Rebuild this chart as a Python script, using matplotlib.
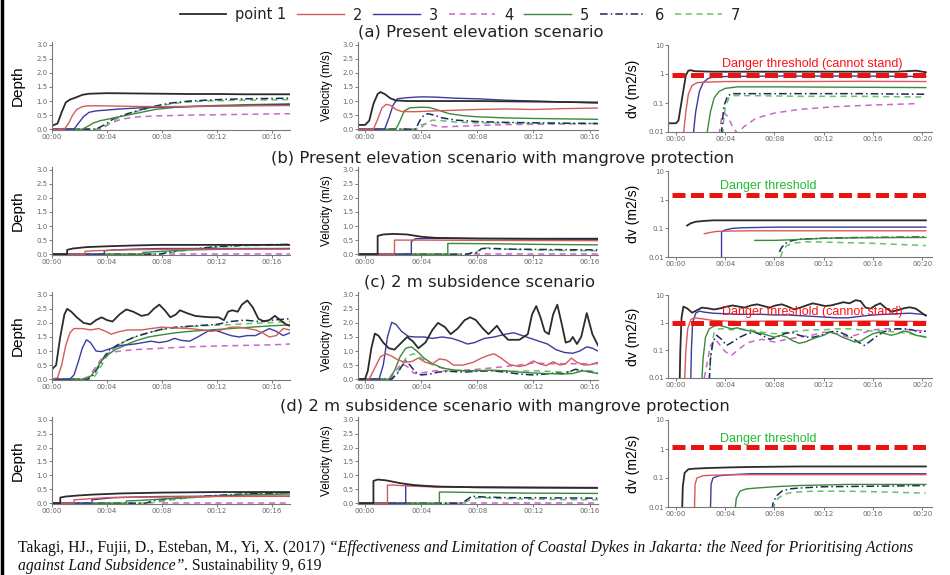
import matplotlib
matplotlib.use("Agg")
import matplotlib.pyplot as plt
from matplotlib.lines import Line2D

W, H = 950, 575

# ---------------- data: time in minutes, one dict per panel ----------------
# each entry: point -> (times, values)
DEPTH_A = {
    1: ([0, 0.4, 0.7, 1.0, 1.3, 1.7, 2.2, 2.7, 4, 6, 8, 10, 12, 14, 17.3],
        [0.12, 0.2, 0.6, 0.95, 1.05, 1.12, 1.22, 1.26, 1.28, 1.27, 1.26, 1.25, 1.25, 1.24, 1.24]),
    2: ([0, 0.9, 1.2, 1.5, 1.8, 2.2, 2.6, 3.5, 6, 8, 12, 17.3],
        [0, 0, 0.2, 0.5, 0.7, 0.8, 0.83, 0.83, 0.81, 0.8, 0.82, 0.84]),
    3: ([0, 1.6, 1.9, 2.3, 2.7, 3.2, 4, 5, 6.5, 8, 12, 17.3],
        [0, 0, 0.2, 0.45, 0.6, 0.65, 0.68, 0.72, 0.76, 0.78, 0.82, 0.88]),
    4: ([0, 3.6, 4.2, 5, 6, 7.5, 10, 13, 17.3],
        [0, 0, 0.2, 0.35, 0.43, 0.47, 0.5, 0.52, 0.55]),
    5: ([0, 2.2, 2.6, 3.0, 3.5, 4.5, 5.5, 6.5, 7.5, 9, 11, 14, 17.3],
        [0, 0, 0.1, 0.22, 0.3, 0.4, 0.5, 0.6, 0.7, 0.78, 0.83, 0.87, 0.9]),
    6: ([0, 3.2, 3.8, 4.5, 5.5, 6.5, 7.5, 8.5, 10, 12, 14, 17.3],
        [0, 0, 0.15, 0.38, 0.55, 0.7, 0.82, 0.92, 1.0, 1.05, 1.08, 1.1]),
    7: ([0, 3.4, 4.0, 4.8, 5.8, 7, 8, 9.5, 11, 14, 17.3],
        [0, 0, 0.15, 0.4, 0.58, 0.74, 0.85, 0.95, 1.0, 1.03, 1.05]),
}
VEL_A = {
    1: ([-0.5, 0, 0.3, 0.6, 0.9, 1.1, 1.4, 1.8, 2.2, 3, 5, 8, 12, 16.6],
        [0.15, 0.15, 0.3, 0.9, 1.25, 1.32, 1.25, 1.1, 1.02, 1.0, 1.0, 1.0, 0.98, 0.95]),
    2: ([-0.5, 0.6, 0.9, 1.2, 1.5, 1.8, 2.2, 2.6, 3.5, 5, 8, 10, 12, 14, 16.6],
        [0, 0, 0.35, 0.75, 0.88, 0.85, 0.7, 0.63, 0.62, 0.65, 0.7, 0.72, 0.7, 0.73, 0.75]),
    3: ([-0.5, 1.4, 1.7, 2.0, 2.3, 3, 4, 5, 6.5, 8, 10, 12, 14, 16.6],
        [0, 0, 0.4, 0.85, 1.08, 1.12, 1.15, 1.14, 1.1, 1.08, 1.03, 1.0, 0.97, 0.93]),
    4: ([-0.5, 3.6, 4.0, 4.4, 5.0, 5.6, 6.5, 8, 10, 13, 16.6],
        [0, 0, 0.15, 0.2, 0.12, 0.08, 0.1, 0.13, 0.16, 0.18, 0.2]),
    5: ([-0.5, 2.2, 2.5, 2.8, 3.2, 4, 4.6, 5.2, 6, 7, 8, 10, 12, 16.6],
        [0, 0, 0.3, 0.65, 0.76, 0.78, 0.77, 0.68, 0.55, 0.48, 0.44, 0.4, 0.38, 0.35]),
    6: ([-0.5, 3.6, 3.9, 4.2, 4.5, 4.9, 5.5, 6.5, 8, 10, 13, 16.6],
        [0, 0, 0.3, 0.5, 0.55, 0.5, 0.4, 0.32, 0.27, 0.24, 0.22, 0.2]),
    7: ([-0.5, 3.9, 4.3, 4.8, 5.5, 6.5, 8, 10, 13, 16.6],
        [0, 0, 0.2, 0.32, 0.3, 0.25, 0.22, 0.22, 0.2, 0.2]),
}
DV_A = {
    1: ([-0.65, 0, 0.2, 0.5, 0.8, 1.0, 1.2, 1.5, 3, 6, 10, 15, 18, 19.5, 20.3],
        [0.02, 0.02, 0.025, 0.15, 0.9, 1.3, 1.35, 1.25, 1.2, 1.2, 1.2, 1.2, 1.2, 1.3, 1.15]),
    2: ([0.6, 0.8, 1.0, 1.3, 1.7, 2.2, 4, 10, 15, 20.3],
        [0.008, 0.05, 0.2, 0.4, 0.5, 0.52, 0.55, 0.55, 0.56, 0.55]),
    3: ([1.4, 1.6, 1.9, 2.2, 2.6, 3.0, 4, 8, 15, 20.3],
        [0.008, 0.05, 0.25, 0.5, 0.7, 0.78, 0.82, 0.85, 0.85, 0.82]),
    4: ([3.5, 3.7, 3.9, 4.2, 4.6, 5.0, 5.5, 6.5, 8, 10, 13, 16, 19.5],
        [0.008, 0.03, 0.045, 0.035, 0.015, 0.009, 0.015, 0.03, 0.045, 0.06, 0.075, 0.085, 0.095]),
    5: ([2.5, 2.8, 3.1, 3.5, 4.0, 5, 8, 14, 20.3],
        [0.008, 0.05, 0.15, 0.25, 0.32, 0.36, 0.36, 0.35, 0.34]),
    6: ([3.7, 3.75, 3.9, 4.2, 4.6, 6, 10, 15, 20.3],
        [0.008, 0.02, 0.08, 0.18, 0.21, 0.21, 0.21, 0.21, 0.2]),
    7: ([3.8, 3.85, 4.0, 4.3, 4.7, 6, 10, 15, 20.3],
        [0.008, 0.02, 0.07, 0.15, 0.18, 0.18, 0.17, 0.17, 0.16]),
}

DEPTH_B = {
    1: ([0, 1.1, 1.1, 1.5, 2.5, 4, 6, 8, 12, 17.3],
        [0, 0, 0.15, 0.2, 0.25, 0.28, 0.31, 0.33, 0.33, 0.33]),
    2: ([0, 2.4, 2.4, 3, 5, 8, 12, 17.3], [0, 0, 0.1, 0.12, 0.15, 0.17, 0.18, 0.18]),
    3: ([0, 3.8, 3.8, 4.5, 6, 8, 12, 17.3], [0, 0, 0.12, 0.15, 0.18, 0.2, 0.2, 0.2]),
    4: ([8.5, 17.3], [0.0, 0.0]),
    5: ([0, 6.6, 6.6, 8, 10, 13, 17.3], [0, 0, 0.06, 0.1, 0.15, 0.18, 0.2]),
    6: ([0, 7.8, 8.3, 9, 10.5, 12, 14, 17.3], [0, 0, 0.05, 0.12, 0.2, 0.27, 0.32, 0.35]),
    7: ([0, 8.0, 8.5, 9.2, 10.5, 12, 14, 17.3], [0, 0, 0.04, 0.1, 0.18, 0.25, 0.3, 0.33]),
}
VEL_B = {
    1: ([-0.5, 0.9, 0.9, 1.3, 2, 3, 4, 5, 8, 12, 16.6],
        [0, 0, 0.65, 0.7, 0.72, 0.7, 0.62, 0.58, 0.56, 0.55, 0.55]),
    2: ([-0.5, 2.1, 2.1, 2.6, 4, 8, 16.6], [0, 0, 0.5, 0.5, 0.5, 0.49, 0.48]),
    3: ([-0.5, 3.3, 3.3, 3.6, 4.5, 8, 16.6], [0, 0, 0.45, 0.55, 0.56, 0.55, 0.53]),
    4: ([7.8, 16.6], [0.0, 0.0]),
    5: ([-0.5, 5.9, 5.9, 6.5, 9, 12, 16.6], [0, 0, 0.38, 0.38, 0.37, 0.35, 0.33]),
    6: ([-0.5, 7.3, 7.6, 8.0, 8.3, 9, 10, 12, 14, 16.6],
        [0, 0, 0.05, 0.05, 0.2, 0.2, 0.18, 0.17, 0.16, 0.15]),
    7: ([-0.5, 7.8, 8.3, 9, 10, 12, 14, 16.6], [0, 0, 0.22, 0.22, 0.18, 0.15, 0.13, 0.12]),
}
DV_B = {
    1: ([0.9, 1.2, 1.6, 2.2, 3, 5, 10, 15, 20.3],
        [0.125, 0.15, 0.17, 0.18, 0.19, 0.19, 0.19, 0.19, 0.19]),
    2: ([2.3, 2.8, 3.3, 4, 6, 10, 15, 20.3],
        [0.065, 0.072, 0.078, 0.08, 0.082, 0.082, 0.082, 0.082]),
    3: ([3.7, 3.7, 4.0, 4.6, 5.5, 8, 12, 20.3],
        [0.008, 0.075, 0.088, 0.1, 0.105, 0.11, 0.11, 0.11]),
    5: ([6.4, 8, 9.5, 12, 15, 20.3], [0.038, 0.038, 0.04, 0.045, 0.047, 0.048]),
    6: ([8.4, 8.6, 8.9, 9.3, 10, 12, 15, 20.3],
        [0.015, 0.022, 0.03, 0.036, 0.042, 0.045, 0.048, 0.05]),
    7: ([8.5, 8.7, 9.0, 9.5, 10.5, 12, 16, 20.3],
        [0.01, 0.018, 0.025, 0.03, 0.034, 0.033, 0.03, 0.025]),
}

DEPTH_C = {
    1: ([0, 0.3, 0.6, 0.9, 1.1, 1.4, 1.8, 2.3, 2.8, 3.2, 3.6, 4.0, 4.4, 4.9, 5.4, 5.9, 6.5,
         7.0, 7.4, 7.8, 8.2, 8.6, 9.0, 9.3, 9.8, 10.4, 11, 11.6, 12.1, 12.5, 12.8, 13.1,
         13.5, 13.8, 14.2, 14.6, 15, 15.4, 15.8, 16.2, 16.6, 17.0, 17.3],
        [0.35, 0.5, 1.5, 2.3, 2.5, 2.4, 2.2, 2.0, 1.95, 2.1, 2.2, 2.1, 2.05, 2.3, 2.48, 2.4,
         2.25, 2.3, 2.5, 2.65, 2.45, 2.2, 2.3, 2.45, 2.35, 2.25, 2.22, 2.2, 2.2, 2.1, 2.4,
         2.45, 2.4, 2.65, 2.8, 2.55, 2.15, 2.05, 2.1, 2.25, 2.1, 1.95, 1.9]),
    2: ([0, 0.4, 0.7, 1.0, 1.3, 1.6, 2.2, 2.8, 3.4, 3.9, 4.3, 4.8, 5.5, 6.5, 7.2, 8, 9, 10,
         11, 11.6, 12.3, 13, 13.6, 14.2, 14.8, 15.3, 15.8, 16.3, 16.8, 17.3],
        [0, 0.05, 0.5, 1.2, 1.65, 1.8, 1.8, 1.75, 1.8, 1.7, 1.6, 1.68, 1.75, 1.75, 1.8,
         1.85, 1.82, 1.8, 1.75, 1.7, 1.75, 1.85, 1.85, 1.8, 1.75, 1.65, 1.5, 1.55, 1.8, 1.75]),
    3: ([0, 1.3, 1.6, 1.9, 2.2, 2.5, 2.8, 3.2, 3.6, 4.2, 5, 6, 6.6, 7.2, 7.8, 8.4, 8.9, 9.4,
         10, 10.6, 11.3, 11.8, 12.4, 13, 13.6, 14.2, 14.8, 15.4, 15.8, 16.3, 16.8, 17.3],
        [0, 0, 0.15, 0.6, 1.1, 1.4, 1.3, 1.0, 0.98, 1.08, 1.2, 1.25, 1.3, 1.35, 1.3, 1.35,
         1.45, 1.38, 1.35, 1.5, 1.7, 1.75, 1.65, 1.55, 1.5, 1.55, 1.55, 1.7, 1.8, 1.7, 1.55, 1.65]),
    4: ([0, 2.2, 2.7, 3.2, 3.7, 4.2, 5, 6, 8, 10, 12, 14, 16, 17.3],
        [0, 0, 0.1, 0.45, 0.8, 0.95, 1.0, 1.05, 1.1, 1.15, 1.18, 1.2, 1.22, 1.25]),
    5: ([0, 2.4, 2.8, 3.2, 3.6, 4.0, 4.6, 5.3, 6, 7, 8, 9, 10, 11.5, 13, 14.5, 16, 17.3],
        [0, 0, 0.1, 0.35, 0.65, 0.85, 1.05, 1.2, 1.35, 1.5, 1.58, 1.65, 1.7, 1.75, 1.8,
         1.85, 1.9, 1.93]),
    6: ([0, 2.6, 3.0, 3.4, 3.8, 4.2, 4.7, 5.3, 6, 7, 8, 9, 10.5, 12, 13, 14, 15, 16, 17.3],
        [0, 0, 0.15, 0.45, 0.8, 1.05, 1.2, 1.35, 1.5, 1.65, 1.78, 1.85, 1.9, 1.95, 2.05,
         2.1, 2.05, 2.1, 2.15]),
    7: ([0, 2.7, 3.1, 3.5, 3.9, 4.3, 4.8, 5.5, 6.3, 7.2, 8.2, 9.5, 11, 12.5, 14, 15.5, 17.3],
        [0, 0, 0.1, 0.4, 0.75, 1.0, 1.2, 1.4, 1.55, 1.68, 1.78, 1.85, 1.9, 1.93, 1.97, 2.0, 2.05]),
}
VEL_C = {
    1: ([-0.5, 0, 0.2, 0.45, 0.7, 0.95, 1.3, 1.7, 2.1, 2.5, 3.0, 3.4, 3.8, 4.3, 4.8, 5.2,
         5.7, 6.1, 6.6, 7.1, 7.5, 7.9, 8.4, 8.8, 9.1, 9.4, 9.8, 10.2, 11, 11.6, 11.9, 12.2,
         12.5, 12.8, 13.1, 13.4, 13.7, 14.0, 14.3, 14.6, 14.8, 15.1, 15.4, 15.8, 16.2, 16.6],
        [0, 0, 0.3, 1.1, 1.62, 1.55, 1.3, 1.1, 1.05, 1.25, 1.5, 1.35, 1.1, 1.3, 1.75, 2.0,
         1.85, 1.6, 1.8, 2.1, 2.2, 2.1, 1.8, 1.6, 1.75, 1.9, 1.6, 1.4, 1.4, 1.6, 2.3, 2.6,
         2.2, 1.7, 1.6, 2.3, 2.65, 2.0, 1.3, 1.35, 1.5, 1.25, 1.5, 2.35, 1.6, 1.2]),
    2: ([-0.5, 0.3, 0.7, 1.1, 1.5, 1.9, 2.3, 2.8, 3.3, 3.8, 4.3, 4.8, 5.3, 5.8, 6.3, 7, 7.7,
         8.3, 8.8, 9.2, 9.7, 10.3, 11, 11.5, 12, 12.4, 12.9, 13.4, 13.9, 14.3, 14.7, 15.1,
         15.6, 16.1, 16.6],
        [0, 0, 0.4, 0.8, 0.9, 0.82, 0.7, 0.6, 0.62, 0.75, 0.6, 0.55, 0.72, 0.68, 0.5, 0.5,
         0.6, 0.75, 0.85, 0.9, 0.75, 0.52, 0.45, 0.5, 0.65, 0.55, 0.48, 0.62, 0.5, 0.55,
         0.75, 0.6, 0.5, 0.52, 0.6]),
    3: ([-0.5, 1.0, 1.3, 1.6, 1.9, 2.2, 2.6, 3.1, 3.6, 4.2, 4.8, 5.5, 6.2, 6.8, 7.3, 7.8,
         8.5, 9.2, 10, 10.6, 11.2, 11.8, 12.4, 13, 13.6, 14.2, 14.8, 15.3, 15.8, 16.2, 16.6],
        [0, 0, 0.5, 1.5, 2.02, 1.95, 1.7, 1.52, 1.5, 1.5, 1.45, 1.5, 1.45, 1.35, 1.25, 1.3,
         1.45, 1.5, 1.6, 1.65, 1.55, 1.45, 1.35, 1.25, 1.05, 0.95, 0.92, 1.0, 1.15, 1.1, 1.0]),
    4: ([-0.5, 1.8, 2.2, 2.6, 3.0, 3.5, 4.0, 5, 6, 7, 8, 9, 10, 11, 12, 13, 14, 15, 16, 16.6],
        [0, 0, 0.3, 0.55, 0.45, 0.2, 0.22, 0.3, 0.3, 0.32, 0.35, 0.4, 0.45, 0.5, 0.58,
         0.55, 0.55, 0.55, 0.55, 0.55]),
    5: ([-0.5, 1.7, 2.1, 2.5, 2.9, 3.3, 3.7, 4.2, 4.8, 5.5, 6.3, 7, 8, 9, 10, 11, 12, 13,
         14, 14.8, 15.5, 16.1, 16.6],
        [0, 0, 0.3, 0.8, 1.1, 1.15, 1.0, 0.75, 0.55, 0.4, 0.32, 0.3, 0.3, 0.32, 0.3, 0.25,
         0.22, 0.2, 0.18, 0.2, 0.3, 0.25, 0.2]),
    6: ([-0.5, 1.9, 2.3, 2.6, 2.9, 3.2, 3.6, 4.0, 4.6, 5.2, 6, 7, 8, 9, 10, 11, 12, 12.8,
         13.5, 14.2, 15, 15.6, 16.1, 16.6],
        [0, 0, 0.2, 0.45, 0.65, 0.5, 0.25, 0.15, 0.18, 0.25, 0.28, 0.25, 0.28, 0.3, 0.25,
         0.18, 0.15, 0.18, 0.22, 0.2, 0.35, 0.3, 0.25, 0.2]),
    7: ([-0.5, 1.9, 2.3, 2.7, 3.1, 3.5, 4.0, 4.6, 5.3, 6, 7, 8, 9, 10, 11, 12, 13, 14, 15,
         16, 16.6],
        [0, 0, 0.2, 0.6, 0.85, 0.9, 0.75, 0.55, 0.42, 0.35, 0.3, 0.3, 0.3, 0.28, 0.28, 0.3,
         0.28, 0.25, 0.28, 0.3, 0.25]),
}
DV_C = {
    1: ([0.3, 0.35, 0.45, 0.6, 0.9, 1.3, 1.7, 2.1, 2.6, 3.1, 3.6, 4.1, 4.6, 5.1, 5.6, 6.1,
         6.6, 7.1, 7.6, 8.1, 8.6, 9.1, 9.6, 10.1, 10.6, 11.1, 11.6, 12.1, 12.6, 13.1, 13.6,
         14.1, 14.6, 15, 15.4, 15.8, 16.2, 16.6, 17, 17.5, 18, 18.5, 19, 19.5, 20, 20.3],
        [0.008, 0.1, 1.5, 3.8, 3.3, 2.3, 2.8, 3.5, 3.3, 3.0, 3.3, 3.8, 4.2, 3.8, 3.5, 4.2,
         4.6, 4.0, 3.5, 4.2, 4.6, 3.8, 3.0, 3.5, 4.2, 5.0, 4.5, 4.0, 4.2, 4.8, 5.5, 5.0,
         6.5, 6.0, 3.5, 3.2, 4.2, 5.0, 3.5, 2.5, 2.8, 3.3, 3.6, 3.2, 2.2, 1.8]),
    2: ([0.7, 0.8, 0.95, 1.2, 1.5, 2.0, 3, 5, 8, 12, 16, 20.3],
        [0.008, 0.1, 0.6, 1.3, 1.5, 1.4, 1.2, 1.1, 1.15, 1.1, 1.15, 1.1]),
    3: ([1.2, 1.25, 1.35, 1.6, 1.9, 2.3, 3, 4, 5, 6, 7, 8, 9, 10, 11, 12, 13, 14, 15, 16,
         17, 18, 19, 20, 20.3],
        [0.008, 0.1, 1.0, 2.2, 2.6, 2.4, 2.2, 2.1, 2.0, 2.0, 2.0, 1.9, 1.9, 1.8, 1.7, 1.6,
         1.5, 1.5, 1.7, 1.9, 2.0, 2.1, 2.2, 2.0, 1.9]),
    4: ([2.3, 2.5, 2.8, 3.2, 3.6, 4.0, 4.5, 5, 5.5, 6, 7, 8, 9, 10, 11, 12, 13, 14, 15, 16,
         17, 18, 19, 20.3],
        [0.01, 0.03, 0.15, 0.25, 0.15, 0.09, 0.065, 0.1, 0.15, 0.2, 0.25, 0.2, 0.25, 0.3,
         0.35, 0.45, 0.4, 0.3, 0.4, 0.55, 0.6, 0.6, 0.55, 0.5]),
    5: ([2.1, 2.2, 2.4, 2.7, 3.1, 3.5, 4, 4.5, 5, 5.5, 6, 7, 8, 8.5, 9, 9.5, 10, 10.5, 11,
         11.5, 12, 12.5, 13, 13.5, 14, 14.5, 15, 15.5, 16, 16.5, 17, 17.5, 18, 18.5, 19,
         19.5, 20.3],
        [0.008, 0.05, 0.3, 0.6, 0.75, 0.8, 0.7, 0.6, 0.65, 0.55, 0.5, 0.4, 0.3, 0.35, 0.3,
         0.22, 0.18, 0.2, 0.25, 0.3, 0.35, 0.45, 0.4, 0.3, 0.25, 0.2, 0.22, 0.3, 0.4, 0.45,
         0.4, 0.35, 0.4, 0.5, 0.45, 0.35, 0.3]),
    6: ([2.7, 2.8, 3.0, 3.3, 3.7, 4.1, 4.6, 5.2, 5.8, 6.4, 7, 7.6, 8.2, 8.8, 9.4, 10, 10.6,
         11.2, 11.8, 12.4, 13, 13.6, 14.2, 14.8, 15.3, 15.7, 16.2, 16.8, 17.4, 18, 18.6,
         19.2, 19.8, 20.3],
        [0.008, 0.05, 0.2, 0.35, 0.25, 0.15, 0.2, 0.3, 0.4, 0.45, 0.35, 0.25, 0.3, 0.4,
         0.45, 0.35, 0.3, 0.3, 0.35, 0.45, 0.5, 0.4, 0.3, 0.2, 0.15, 0.2, 0.3, 0.45, 0.55,
         0.6, 0.6, 0.55, 0.45, 0.5]),
    7: ([2.7, 2.85, 3.1, 3.5, 4, 4.5, 5, 6, 7, 8, 9, 10, 11, 12, 13, 14, 15, 16, 17, 18,
         19, 20.3],
        [0.008, 0.1, 0.45, 0.6, 0.6, 0.55, 0.6, 0.55, 0.45, 0.4, 0.45, 0.5, 0.55, 0.55,
         0.6, 0.6, 0.55, 0.5, 0.5, 0.45, 0.4, 0.3]),
}

DEPTH_D = {
    1: ([0, 0.6, 0.6, 1.0, 2, 3, 5, 8, 12, 17.3],
        [0, 0, 0.2, 0.24, 0.28, 0.31, 0.35, 0.38, 0.4, 0.4]),
    2: ([0, 1.6, 1.6, 2.5, 4, 6, 8, 12, 17.3], [0, 0, 0.12, 0.15, 0.2, 0.21, 0.22, 0.24, 0.25]),
    3: ([0, 2.9, 2.9, 3.5, 4.5, 6, 8, 12, 17.3], [0, 0, 0.12, 0.15, 0.2, 0.22, 0.24, 0.25, 0.25]),
    4: ([8.0, 17.3], [0.0, 0.0]),
    5: ([0, 5.4, 5.4, 6.5, 8, 10, 12, 14, 17.3], [0, 0, 0.08, 0.1, 0.15, 0.2, 0.25, 0.3, 0.33]),
    6: ([0, 6.8, 7.5, 8.5, 10, 12, 14, 17.3], [0, 0, 0.1, 0.15, 0.22, 0.28, 0.33, 0.38]),
    7: ([0, 7.0, 7.8, 8.8, 10, 12, 14, 17.3], [0, 0, 0.05, 0.12, 0.2, 0.27, 0.33, 0.37]),
}
VEL_D = {
    1: ([-0.5, 0.6, 0.6, 0.9, 1.5, 2.5, 3.5, 5, 8, 12, 16.6],
        [0, 0, 0.8, 0.85, 0.82, 0.72, 0.65, 0.6, 0.57, 0.56, 0.55]),
    2: ([-0.5, 1.6, 1.6, 2, 3, 5, 10, 16.6], [0, 0, 0.65, 0.65, 0.62, 0.58, 0.56, 0.55]),
    3: ([-0.5, 2.9, 2.9, 3.3, 4, 6, 10, 16.6], [0, 0, 0.65, 0.65, 0.62, 0.58, 0.57, 0.56]),
    4: ([6.0, 16.6], [0.02, 0.02]),
    5: ([-0.5, 5.3, 5.3, 6, 8, 12, 16.6], [0, 0, 0.4, 0.4, 0.38, 0.36, 0.35]),
    6: ([-0.5, 6.8, 7.2, 7.6, 8.5, 10, 13, 16.6], [0, 0, 0.1, 0.25, 0.22, 0.2, 0.19, 0.18]),
    7: ([-0.5, 7.0, 7.5, 8, 9, 11, 14, 16.6], [0, 0, 0.12, 0.2, 0.18, 0.15, 0.13, 0.12]),
}
DV_D = {
    1: ([0.5, 0.55, 0.7, 1.0, 1.5, 2.5, 4, 6, 10, 15, 20.3],
        [0.008, 0.05, 0.15, 0.2, 0.21, 0.22, 0.23, 0.24, 0.25, 0.25, 0.25]),
    2: ([1.5, 1.55, 1.7, 2.2, 3, 5, 10, 20.3], [0.008, 0.06, 0.1, 0.12, 0.125, 0.13, 0.13, 0.13]),
    3: ([2.8, 2.85, 3.0, 3.5, 4.5, 6, 10, 20.3], [0.008, 0.06, 0.1, 0.12, 0.13, 0.14, 0.14, 0.14]),
    5: ([4.8, 4.9, 5.2, 5.7, 6.5, 8, 10, 14, 20.3],
        [0.008, 0.02, 0.035, 0.042, 0.045, 0.05, 0.055, 0.06, 0.06]),
    6: ([7.8, 7.9, 8.2, 8.6, 9.2, 10, 12, 16, 20.3],
        [0.008, 0.015, 0.025, 0.035, 0.042, 0.045, 0.05, 0.052, 0.055]),
    7: ([7.9, 8.0, 8.3, 8.8, 9.5, 11, 14, 17, 20.3],
        [0.008, 0.012, 0.02, 0.028, 0.032, 0.035, 0.035, 0.033, 0.03]),
}

TITLES = [
    "(a) Present elevation scenario",
    "(b) Present elevation scenario with mangrove protection",
    "(c) 2 m subsidence scenario",
    "(d) 2 m subsidence scenario with mangrove protection",
]
THRESHOLDS = [0.9, 1.5, 1.0, 1.15]
THRESHOLD_TEXT = ["Danger threshold (cannot stand)", "Danger threshold",
                  "Danger threshold (cannot stand)", "Danger threshold"]
LEGEND_LABELS = ["point 1", "2", "3", "4", "5", "6", "7"]

STYLE = {
    1: dict(color="#2b2b2b", lw=1.3, ls="-"),
    2: dict(color="#d65a5a", lw=1.0, ls="-"),
    3: dict(color="#3b3b9e", lw=1.0, ls="-"),
    4: dict(color="#cc66cc", lw=1.1, ls=(0, (4, 3))),
    5: dict(color="#3a8a3a", lw=1.0, ls="-"),
    6: dict(color="#1c2a5a", lw=1.1, ls=(0, (5, 2, 1, 2))),
    7: dict(color="#66c266", lw=1.1, ls=(0, (4, 3))),
}
ORDER = [4, 7, 6, 5, 3, 2, 1]

# pixel geometry of the grid
LIN_ROWS = [(42, 130), (167, 255), (292, 380), (417, 504)]
LOG_ROWS = [(45, 132), (171, 257), (295, 378), (420, 507)]
TITLE_Y = [32, 158, 282, 406]
TITLE_X = [481, 503, 480, 505]
COLS = [(52, 290), (358, 598), (668, 932)]


def box(x0, y0, x1, y1):
    return [x0 / W, 1 - y1 / H, (x1 - x0) / W, (y1 - y0) / H]


def style_axis(ax):
    for s in ("top", "right"):
        ax.spines[s].set_visible(False)
    for s in ("left", "bottom"):
        ax.spines[s].set_color("#777777")
        ax.spines[s].set_linewidth(0.8)
    ax.tick_params(labelsize=5, colors="#666666", length=2, width=0.6, pad=1)
    ax.minorticks_off()


def time_axis(ax, ticks):
    ax.set_xticks(ticks)
    ax.set_xticklabels([f"00:{t:02d}" for t in ticks])


def draw(ax, series):
    for p in ORDER:
        if p in series:
            t, v = series[p]
            ax.plot(t, v, **STYLE[p])


fig = plt.figure(figsize=(W / 100, H / 100), dpi=100)

panels = [(DEPTH_A, VEL_A, DV_A), (DEPTH_B, VEL_B, DV_B),
          (DEPTH_C, VEL_C, DV_C), (DEPTH_D, VEL_D, DV_D)]

for r, (dep, vel, dv) in enumerate(panels):
    y0, y1 = LIN_ROWS[r]
    ly0, ly1 = LOG_ROWS[r]

    ax = fig.add_axes(box(COLS[0][0], y0, COLS[0][1], y1))
    draw(ax, dep)
    ax.set_xlim(0, 17.3)
    ax.set_ylim(-0.03, 3.1)
    ax.set_yticks([0, 0.5, 1.0, 1.5, 2.0, 2.5, 3.0])
    ax.set_yticklabels(["0.0", "0.5", "1.0", "1.5", "2.0", "2.5", "3.0"])
    time_axis(ax, [0, 4, 8, 12, 16])
    style_axis(ax)

    ax = fig.add_axes(box(COLS[1][0], y0, COLS[1][1], y1))
    draw(ax, vel)
    ax.set_xlim(-0.5, 16.6)
    ax.set_ylim(-0.03, 3.1)
    ax.set_yticks([0, 0.5, 1.0, 1.5, 2.0, 2.5, 3.0])
    ax.set_yticklabels(["0.0", "0.5", "1.0", "1.5", "2.0", "2.5", "3.0"])
    time_axis(ax, [0, 4, 8, 12, 16])
    style_axis(ax)

    ax = fig.add_axes(box(COLS[2][0], ly0, COLS[2][1], ly1))
    draw(ax, dv)
    ax.set_yscale("log")
    ax.set_xlim(-0.65, 20.8)
    ax.set_ylim(0.01, 10)
    ax.set_yticks([0.01, 0.1, 1, 10])
    ax.set_yticklabels(["0.01", "0.1", "1", "10"])
    time_axis(ax, [0, 4, 8, 12, 16, 20])
    style_axis(ax)
    ax.axhline(THRESHOLDS[r], xmin=0.015, xmax=0.995, color="#ee1111", lw=3.6,
               ls=(0, (2.6, 1.1)), zorder=5)
    green = r in (1, 3)
    ax.text(7.5 if green else 11.1, THRESHOLDS[r] * (2.0 if green else 2.4),
            THRESHOLD_TEXT[r], color="#22bb33" if green else "#ff1111",
            fontsize=9, family="Liberation Sans", ha="center", va="center", zorder=6)

    fig.text(TITLE_X[r] / W, 1 - TITLE_Y[r] / H, TITLES[r], ha="center", va="center",
             fontsize=11.8, family="DejaVu Sans", color="#222222")

    # axis titles
    fig.text(18 / W, 1 - (y0 + y1) / 2 / H, "Depth", rotation=90, ha="center",
             va="center", fontsize=11, family="Liberation Sans")
    fig.text(327 / W, 1 - (y0 + y1) / 2 / H, "Velocity (m/s)", rotation=90,
             ha="center", va="center", fontsize=8.5, family="Liberation Sans")
    fig.text(633 / W, 1 - (ly0 + ly1) / 2 / H, "dv (m2/s)", rotation=90,
             ha="center", va="center", fontsize=10, family="Liberation Sans")

# shared legend across the top
handles = [Line2D([], [], **STYLE[p]) for p in range(1, 8)]
fig.legend(handles, LEGEND_LABELS, loc="center", bbox_to_anchor=(460 / W, 1 - 15 / H),
           ncol=7, frameon=False, handlelength=3.2, handletextpad=0.6,
           columnspacing=0.75, labelcolor="#222222",
           prop={"family": "DejaVu Sans", "size": 10.5})

# left frame line
fig.add_artist(Line2D([1.5 / W, 1.5 / W], [0, 1], color="black", lw=2.5,
                      transform=fig.transFigure))

# reference line with mixed upright / italic runs
renderer = fig.canvas.get_renderer()


def put_runs(x, y, runs):
    for s, style in runs:
        t = fig.text(x, y, s, style=style, fontsize=11.3, family="Liberation Serif",
                     va="center", color="#111111")
        x += t.get_window_extent(renderer=renderer).width / fig.bbox.width


put_runs(18 / W, 1 - 548 / H, [
    ("Takagi, HJ., Fujii, D., Esteban, M., Yi, X. (2017) ", "normal"),
    ("\u201cEffectiveness and Limitation of Coastal Dykes in Jakarta: the Need for "
     "Prioritising Actions", "italic"),
])
put_runs(18 / W, 1 - 566 / H, [
    ("against Land Subsidence\u201d", "italic"),
    (". Sustainability 9, 619", "normal"),
])

fig.savefig("out.png", dpi=100)
